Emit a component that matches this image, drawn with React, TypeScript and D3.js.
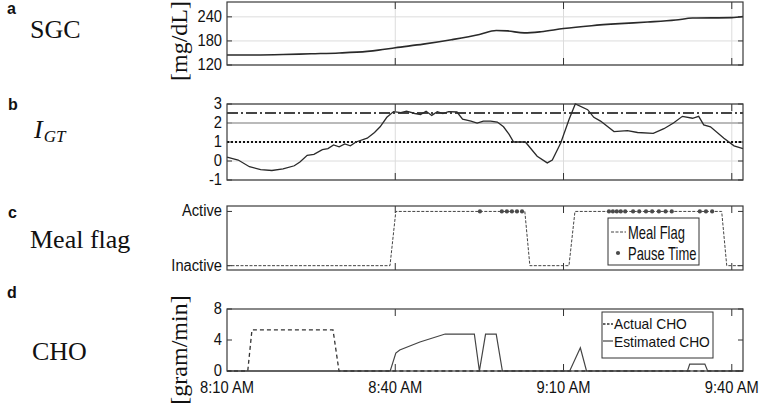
import React from "react";
import * as d3 from "d3";

// ---- DATA (minutes after 8:10 AM) ----
const sgcTime = [0, 5, 10, 15, 20, 25, 27, 30, 35, 40, 45, 48, 50, 53, 56, 60, 65, 70, 75, 80, 83, 90, 92];
const sgcValue = [145, 145, 146, 148, 150, 154, 157, 163, 172, 183, 196, 206, 205, 200, 203, 211, 218, 223, 227, 232, 237, 238, 241];

const igtTime = [0, 2, 4, 6, 8, 10, 12, 13, 14.3, 15.5, 17, 18, 19, 20, 21, 22, 23, 25, 26.3, 27.3, 28.5, 29.7, 31, 32, 33.5, 34.5, 35.5, 36.5, 37.5, 38.5, 39.5, 41, 42, 43.5, 44.6, 45.7, 47, 48.2, 49.3, 50.3, 51.1, 53.2, 55.3, 57.1, 58, 59.5, 61, 62.1, 64.3, 65.4, 66.6, 69, 71.4, 73.2, 76, 77.9, 79.6, 81.2, 83, 84.1, 85, 86.2, 88.6, 90.4, 92];
const igtValue = [0.2, 0.05, -0.3, -0.45, -0.5, -0.42, -0.25, -0.05, 0.3, 0.35, 0.6, 0.65, 0.85, 0.75, 0.9, 0.8, 1.0, 1.2, 1.5, 1.8, 2.3, 2.6, 2.55, 2.62, 2.5, 2.45, 2.62, 2.4, 2.6, 2.5, 2.6, 2.58, 2.2, 2.1, 2.0, 2.1, 2.1, 2.05, 1.8, 1.4, 1.0, 1.0, 0.25, -0.1, 0.05, 0.95, 2.2, 3.0, 2.7, 2.3, 2.1, 1.55, 1.6, 1.5, 1.45, 1.7, 2.0, 2.35, 2.25, 2.35, 1.9, 1.8, 1.2, 0.8, 0.65];
const igtUpper = 2.53;
const igtMid = 2;
const igtLower = 1;

const flagTime = [0, 29.06, 30.1, 53.1, 54.0, 60.97, 62.04, 88.2, 89.1, 92];
const flagValue = [0, 0, 1, 1, 0, 0, 1, 1, 0, 0];
const pauseTime = [45.1, 49.0, 49.9, 50.8, 51.7, 52.6, 68.1, 68.8, 69.5, 70.2, 71.0, 72.4, 73.5, 74.7, 75.8, 77.0, 78.2, 79.3, 84.3, 85.4, 86.5];

const actualTime = [0, 3.7, 4.45, 18.9, 19.97, 92];
const actualValue = [0, 0, 5.3, 5.3, 0, 0];
const estTime = [0, 29.1, 30.1, 30.8, 34.4, 38.9, 44.1, 45.0, 46.1, 48.0, 49.1, 61.1, 63.0, 64.1, 82.1, 82.5, 85.2, 85.7, 92];
const estValue = [0, 0, 2.32, 2.71, 3.74, 4.77, 4.77, 0, 4.77, 4.77, 0, 0, 3.0, 0, 0, 0.9, 0.9, 0, 0];

const timeTicks = [0, 30, 60, 90];
const timeTickLabels = ["8:10 AM", "8:40 AM", "9:10 AM", "9:40 AM"];
const sgcTicks = [120, 180, 240];
const igtTicks = [-1, 0, 1, 2, 3];
const flagTicks = [0, 1];
const flagTickLabels = ["Inactive", "Active"];
const choTicks = [0, 4, 8];

// ---- helpers ----
const base = new Date(2020, 0, 1, 8, 10).getTime();
const toDate = (m: number) => new Date(base + m * 60000);

const SANS = "'Liberation Sans', Arial, sans-serif";
const SERIF = "'Liberation Serif', 'Times New Roman', serif";
const INK = "#2a2a2a";

const x = d3.scaleTime().domain([toDate(0), toDate(92)]).range([227, 743]);

const CText = ({ x: tx, y: ty, sx = 0.92, size = 16, anchor = "end", children }: any) => (
  <text
    transform={`translate(${tx},${ty}) scale(${sx},1)`}
    fontFamily={SANS}
    fontSize={size}
    textAnchor={anchor}
    fill="#111"
  >
    {children}
  </text>
);

function Frame({ y, ticks, labels, grid, xTickLen = 7 }: any) {
  const [y0, y1] = y.range();
  const top = Math.min(y0, y1);
  const bot = Math.max(y0, y1);
  const [xl, xr] = x.range();
  return (
    <g>
      {grid && (
        <g stroke="#dcdcdc" strokeWidth={1}>
          {timeTicks.slice(1).map((t) => (
            <line key={"gx" + t} x1={x(toDate(t))} x2={x(toDate(t))} y1={top} y2={bot} />
          ))}
          {ticks.map((v: number) => (
            <line key={"gy" + v} x1={xl} x2={xr} y1={y(v)} y2={y(v)} />
          ))}
        </g>
      )}
      <g stroke="#333" strokeWidth={1}>
        {timeTicks.slice(1).map((t) => (
          <g key={"tx" + t}>
            <line x1={x(toDate(t))} x2={x(toDate(t))} y1={bot} y2={bot - xTickLen} />
            <line x1={x(toDate(t))} x2={x(toDate(t))} y1={top} y2={top + xTickLen} />
          </g>
        ))}
        {ticks.map((v: number) => (
          <g key={"ty" + v}>
            <line x1={xl} x2={xl + 5} y1={y(v)} y2={y(v)} />
            <line x1={xr} x2={xr - 5} y1={y(v)} y2={y(v)} />
          </g>
        ))}
      </g>
      {ticks.map((v: number, i: number) => (
        <CText key={"lab" + v} x={222} y={y(v) + 5}>
          {labels ? labels[i] : String(v)}
        </CText>
      ))}
    </g>
  );
}

function Box({ y }: any) {
  const [y0, y1] = y.range();
  const [xl, xr] = x.range();
  return (
    <rect
      x={xl}
      y={Math.min(y0, y1)}
      width={xr - xl}
      height={Math.abs(y1 - y0)}
      fill="none"
      stroke="#3a3a3a"
      strokeWidth={1.2}
    />
  );
}

export default function App() {
  const yA = d3.scaleLinear().domain([120, 277]).range([65, 2]);
  const yB = d3.scaleLinear().domain([-1, 3]).range([180, 104]);
  const yC = d3.scaleLinear().domain([-0.08, 1.1]).range([270, 206]);
  const yD = d3.scaleLinear().domain([0, 8]).range([371, 309]);

  const mk = (ys: any) =>
    d3
      .line<[number, number]>()
      .x((d) => x(toDate(d[0])))
      .y((d) => ys(d[1]));

  const sgcPts = sgcTime.map((t, i) => [t, sgcValue[i]] as [number, number]);
  const igtPts = igtTime.map((t, i) => [t, igtValue[i]] as [number, number]);
  const flagPts = flagTime.map((t, i) => [t, flagValue[i]] as [number, number]);
  const actPts = actualTime.map((t, i) => [t, actualValue[i]] as [number, number]);
  const estPts = estTime.map((t, i) => [t, estValue[i]] as [number, number]);

  const sgcLine = mk(yA).curve(d3.curveMonotoneX);
  const [xl, xr] = x.range();

  return (
    <svg
      width={760}
      height={411}
      style={{ position: "absolute", left: 0, top: 0, background: "#fff" }}
    >
      {/* panel letters and titles */}
      <g fontFamily={SANS} fontWeight="bold" fontSize={16} fill="#111">
        <text x={7} y={14}>a</text>
        <text x={8} y={110}>b</text>
        <text x={8} y={218}>c</text>
        <text x={7} y={298}>d</text>
      </g>
      <g fontFamily={SERIF} fontSize={26} fill="#111">
        <text x={30} y={38}>SGC</text>
        <text x={30} y={248}>Meal flag</text>
        <text x={32} y={360}>CHO</text>
        <text x={34} y={138} fontStyle="italic" fontSize={26}>
          I
          <tspan fontSize={17} dy={4} dx={1}>GT</tspan>
        </text>
      </g>
      <g fontFamily={SERIF} fontSize={24} fill="#111">
        <text transform="translate(187,41) rotate(-90)" textAnchor="middle">[mg/dL]</text>
        <text transform="translate(187,350) rotate(-90)" textAnchor="middle">[gram/min]</text>
      </g>

      {/* Panel a */}
      <Frame y={yA} ticks={sgcTicks} grid />
      <path d={sgcLine(sgcPts) || ""} fill="none" stroke={INK} strokeWidth={1.6} />
      <Box y={yA} />

      {/* Panel b */}
      <Frame y={yB} ticks={igtTicks} grid />
      <line x1={xl} x2={xr} y1={yB(igtMid)} y2={yB(igtMid)} stroke="#a8a8a8" strokeWidth={1.5} />
      <line
        x1={xl}
        x2={xr}
        y1={yB(igtUpper)}
        y2={yB(igtUpper)}
        stroke="#444"
        strokeWidth={2}
        strokeDasharray="11,3,2,3"
      />
      <line
        x1={xl}
        x2={xr}
        y1={yB(igtLower)}
        y2={yB(igtLower)}
        stroke="#111"
        strokeWidth={2.2}
        strokeDasharray="2,2"
      />
      <path d={mk(yB)(igtPts) || ""} fill="none" stroke={INK} strokeWidth={1.3} />
      <Box y={yB} />

      {/* Panel c */}
      <Frame y={yC} ticks={flagTicks} labels={flagTickLabels} />
      <path
        d={mk(yC)(flagPts) || ""}
        fill="none"
        stroke="#444"
        strokeWidth={1}
        strokeDasharray="3,1.5"
      />
      {pauseTime.map((t, i) => (
        <circle key={i} cx={x(toDate(t))} cy={yC(1)} r={2.1} fill="#4a4a4a" />
      ))}
      <Box y={yC} />
      <g>
        <rect x={608} y={218} width={91} height={47} fill="#fff" stroke="#333" strokeWidth={1} />
        <line x1={611} x2={626} y1={232} y2={232} stroke="#444" strokeWidth={1} strokeDasharray="3,1.5" />
        <circle cx={618} cy={253} r={2.1} fill="#4a4a4a" />
        <CText x={628} y={239} sx={0.72} size={18} anchor="start">Meal Flag</CText>
        <CText x={628} y={260} sx={0.72} size={18} anchor="start">Pause Time</CText>
      </g>

      {/* Panel d */}
      <Frame y={yD} ticks={choTicks} />
      <path
        d={mk(yD)(actPts) || ""}
        fill="none"
        stroke="#333"
        strokeWidth={1.3}
        strokeDasharray="4,3"
      />
      <path d={mk(yD)(estPts) || ""} fill="none" stroke="#444" strokeWidth={1.2} />
      <Box y={yD} />
      <g>
        <rect x={602} y={312} width={111} height={46} fill="#fff" stroke="#333" strokeWidth={1} />
        <line x1={603} x2={613} y1={324} y2={324} stroke="#333" strokeWidth={1.3} strokeDasharray="2.5,1.5" />
        <line x1={603} x2={613} y1={341} y2={341} stroke="#444" strokeWidth={1.2} />
        <CText x={614} y={329} sx={0.92} size={15} anchor="start">Actual CHO</CText>
        <CText x={614} y={347} sx={0.92} size={15} anchor="start">Estimated CHO</CText>
      </g>

      {/* time axis labels */}
      {timeTicks.map((t, i) => (
        <CText key={"tl" + t} x={x(toDate(t))} y={393} anchor="middle">
          {timeTickLabels[i]}
        </CText>
      ))}
    </svg>
  );
}
